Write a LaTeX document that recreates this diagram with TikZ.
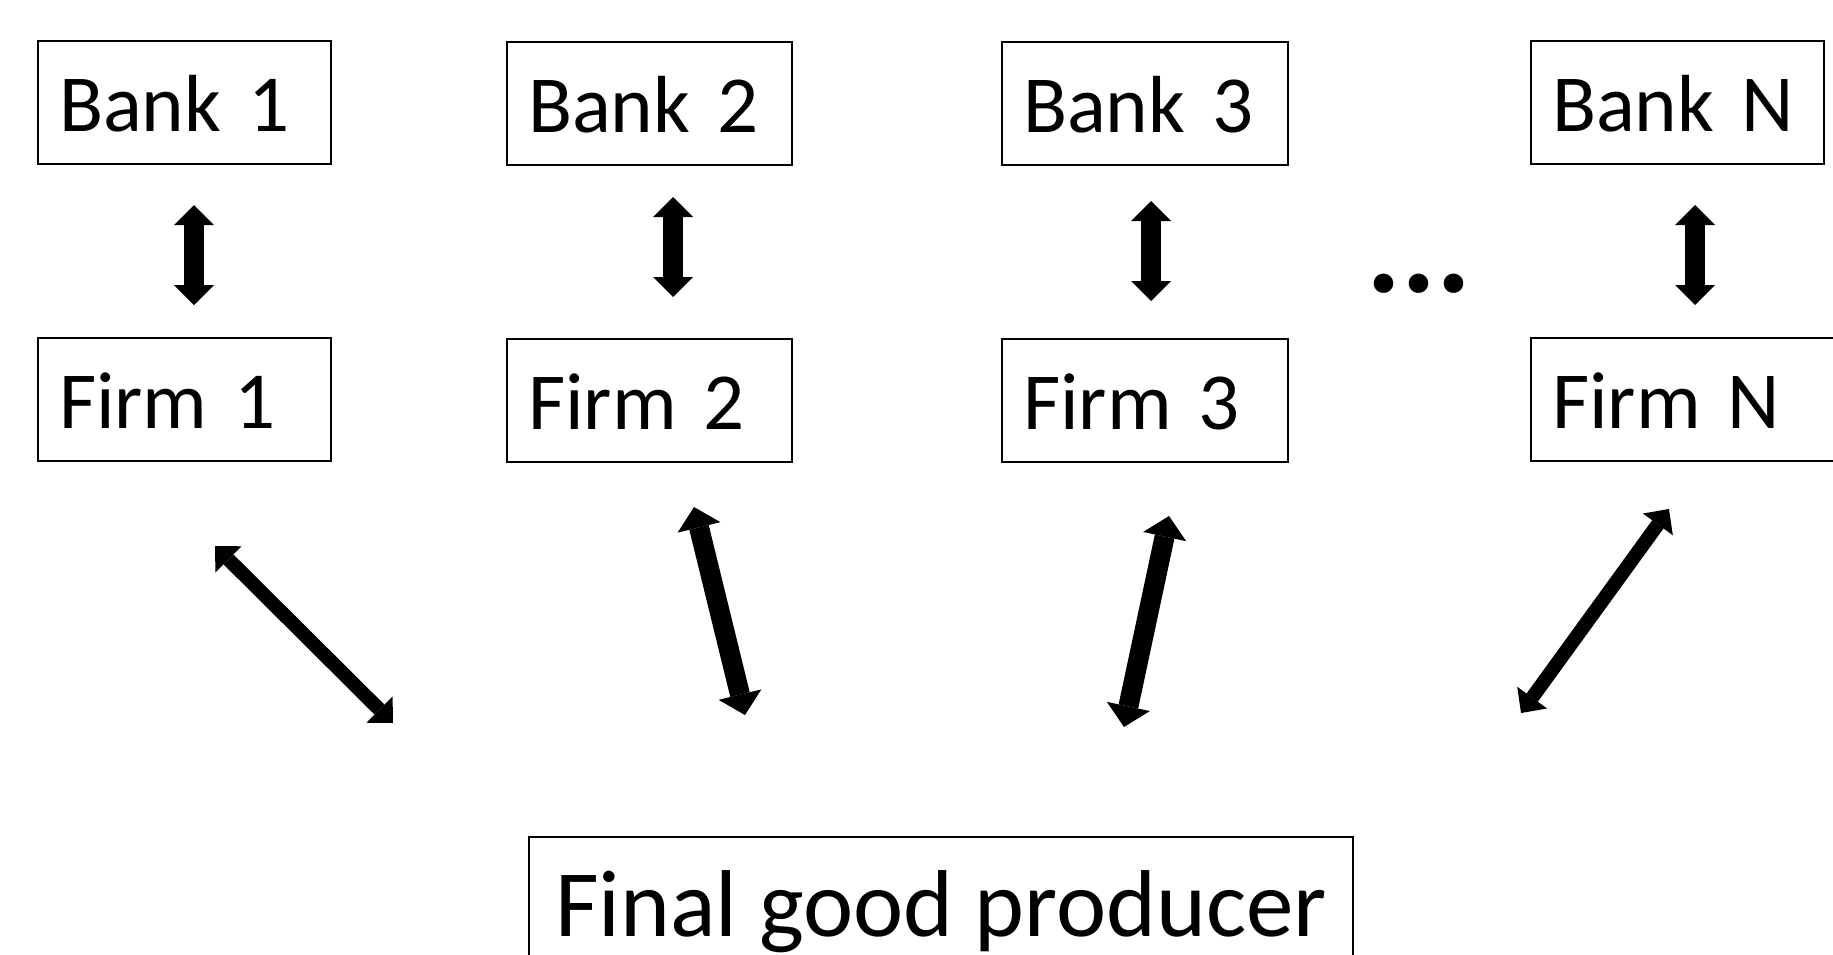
\documentclass[tikz,border=0pt]{standalone}
\usepackage{fontspec}
\setmainfont{Carlito}
\usetikzlibrary{arrows.meta}
\tikzset{
  box/.style={draw, line width=2pt, align=left, anchor=north west,
    inner xsep=21pt, inner ysep=10pt, text height=80pt, text depth=23pt,
    font=\fontsize{81}{90}\selectfont},
  bigarrow/.style={line width=20pt,
    {Triangle[length=20pt,width=40pt,line width=0pt 0 0]}-{Triangle[length=20pt,width=40pt,line width=0pt 0 0]}},
  slimarrow/.style={line width=14pt,
    {Triangle[length=19pt,width=37pt,line width=0pt 0 0]}-{Triangle[length=19pt,width=37pt,line width=0pt 0 0]}},
  widearrow/.style={line width=20pt,
    {Triangle[length=21pt,width=44pt,line width=0pt 0 0]}-{Triangle[length=21pt,width=44pt,line width=0pt 0 0]}}
}
\begin{document}
\begin{tikzpicture}[x=1pt,y=-1pt]
\fill[white] (0,0) rectangle (1833,954);
\useasboundingbox (0,0) rectangle (1833,954);
% banks
\node[box, text width=251pt] (b1) at (37,40) {Bank 1};
\node[box, text width=243pt] (b2) at (506,41) {Bank 2};
\node[box, text width=244pt] (b3) at (1001,41) {Bank 3};
\node[box, text width=251pt] (bN) at (1530,40) {Bank N};
% firms
\node[box, text width=251pt] (f1) at (37,337) {Firm 1};
\node[box, text width=243pt] (f2) at (506,338) {Firm 2};
\node[box, text width=244pt] (f3) at (1001,338) {Firm 3};
\node[box, text width=273pt] (fN) at (1530,337) {Firm N};
% final good producer
\node[draw, line width=2pt, anchor=north west, minimum width=824pt,
  inner xsep=0pt, inner ysep=29pt, text height=70pt, text depth=20pt,
  font=\fontsize{95}{105}\selectfont] (fg) at (528,836) {Final good producer};
% dots
\node[anchor=base west, inner sep=0pt, font=\fontsize{131}{140}\selectfont\bfseries] (dots) at (1366,292) {...};
% bank-firm arrows
\draw[bigarrow] ([xshift=9.5pt,yshift=-40pt]b1.south) -- ([xshift=9.5pt,yshift=32pt]f1.north);
\draw[bigarrow] ([xshift=23.5pt,yshift=-31pt]b2.south) -- ([xshift=23.5pt,yshift=41pt]f2.north);
\draw[bigarrow] ([xshift=6pt,yshift=-35pt]b3.south) -- ([xshift=6pt,yshift=37pt]f3.north);
\draw[bigarrow] ([xshift=17.5pt,yshift=-40pt]bN.south) -- ([xshift=6.5pt,yshift=32pt]fN.north);
% firm-final arrows
\draw[slimarrow] ([xshift=30.5pt,yshift=-84pt]f1.south) -- ([xshift=-135pt,yshift=113pt]fg.north west);
\draw[widearrow] ([xshift=44.5pt,yshift=-44pt]f2.south) -- ([xshift=217pt,yshift=121pt]fg.north west);
\draw[widearrow] ([xshift=24pt,yshift=-53pt]f3.south) -- ([xshift=-230pt,yshift=109pt]fg.north east);
\draw[slimarrow] ([xshift=-19.5pt,yshift=-47pt]fN.south) -- ([xshift=167pt,yshift=123pt]fg.north east);
\end{tikzpicture}
\end{document}
